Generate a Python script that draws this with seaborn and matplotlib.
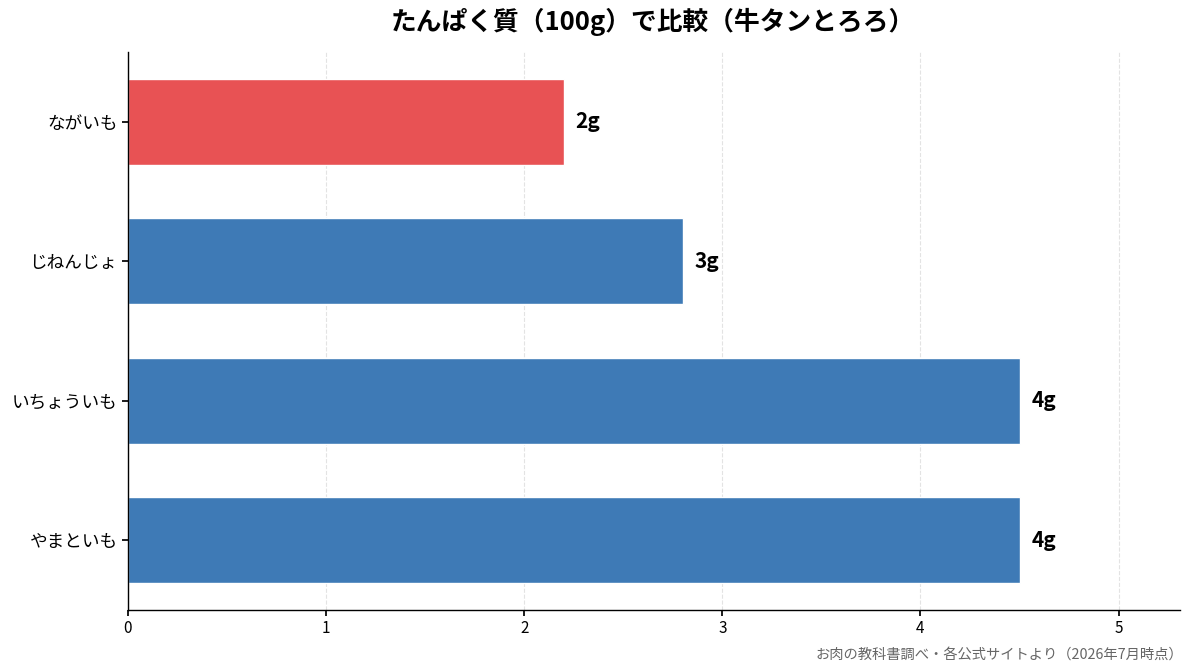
import matplotlib
matplotlib.use("Agg")
import matplotlib.pyplot as plt
import seaborn as sns
import pandas as pd

# Data
categories = ["ながいも", "じねんじょ", "いちょういも", "やまといも"]
protein = [2.2, 2.8, 4.5, 4.5]
value_labels = ["2g", "3g", "4g", "4g"]
bar_colors = ["#E85254", "#3E7AB6", "#3E7AB6", "#3E7AB6"]

title = "たんぱく質（100g）で比較（牛タンとろろ）"
source = "お肉の教科書調べ・各公式サイトより（2026年7月時点）"

sns.set_theme(style="white")
plt.rcParams["font.family"] = ["Noto Sans CJK JP", "DejaVu Sans"]
plt.rcParams["text.color"] = "black"
plt.rcParams["xtick.color"] = "black"
plt.rcParams["ytick.color"] = "black"

df = pd.DataFrame({"name": categories, "protein": protein})

fig = plt.figure(figsize=(11.93, 6.72), dpi=100)
ax = fig.add_axes([128 / 1193, 1 - 610 / 672, (1180 - 128) / 1193, (610 - 52) / 672])

sns.barplot(data=df, y="name", x="protein", hue="name", palette=bar_colors,
            legend=False, width=0.62, ax=ax, saturation=1)

# value labels at bar ends
for i, (v, lab) in enumerate(zip(protein, value_labels)):
    ax.text(v + 0.06, i, lab, va="center", ha="left", fontsize=15,
            fontweight="bold", color="black")

ax.set_xlim(0, max(protein) * 1.18)
ax.set_ylim(3.5, -0.5)
ax.set_xticks([0, 1, 2, 3, 4, 5])
ax.set_xlabel("")
ax.set_ylabel("")
ax.xaxis.grid(True, linestyle="--", color="#e3e3e3", linewidth=0.8)
ax.set_axisbelow(True)
ax.tick_params(axis="y", labelsize=12.7, length=4, color="black", left=True)
ax.tick_params(axis="x", labelsize=11, length=4, color="black", bottom=True)
for s in ["top", "right"]:
    ax.spines[s].set_visible(False)
for s in ["left", "bottom"]:
    ax.spines[s].set_color("black")
    ax.spines[s].set_linewidth(1.0)

fig.text(653 / 1193, 1 - 22 / 672, title, ha="center", va="center", fontsize=18.5, fontweight="bold")
fig.text(1183 / 1193, 1 - 655 / 672, source, ha="right", va="center", fontsize=10.3, color="#666666")

fig.savefig("out.png", dpi=100)
